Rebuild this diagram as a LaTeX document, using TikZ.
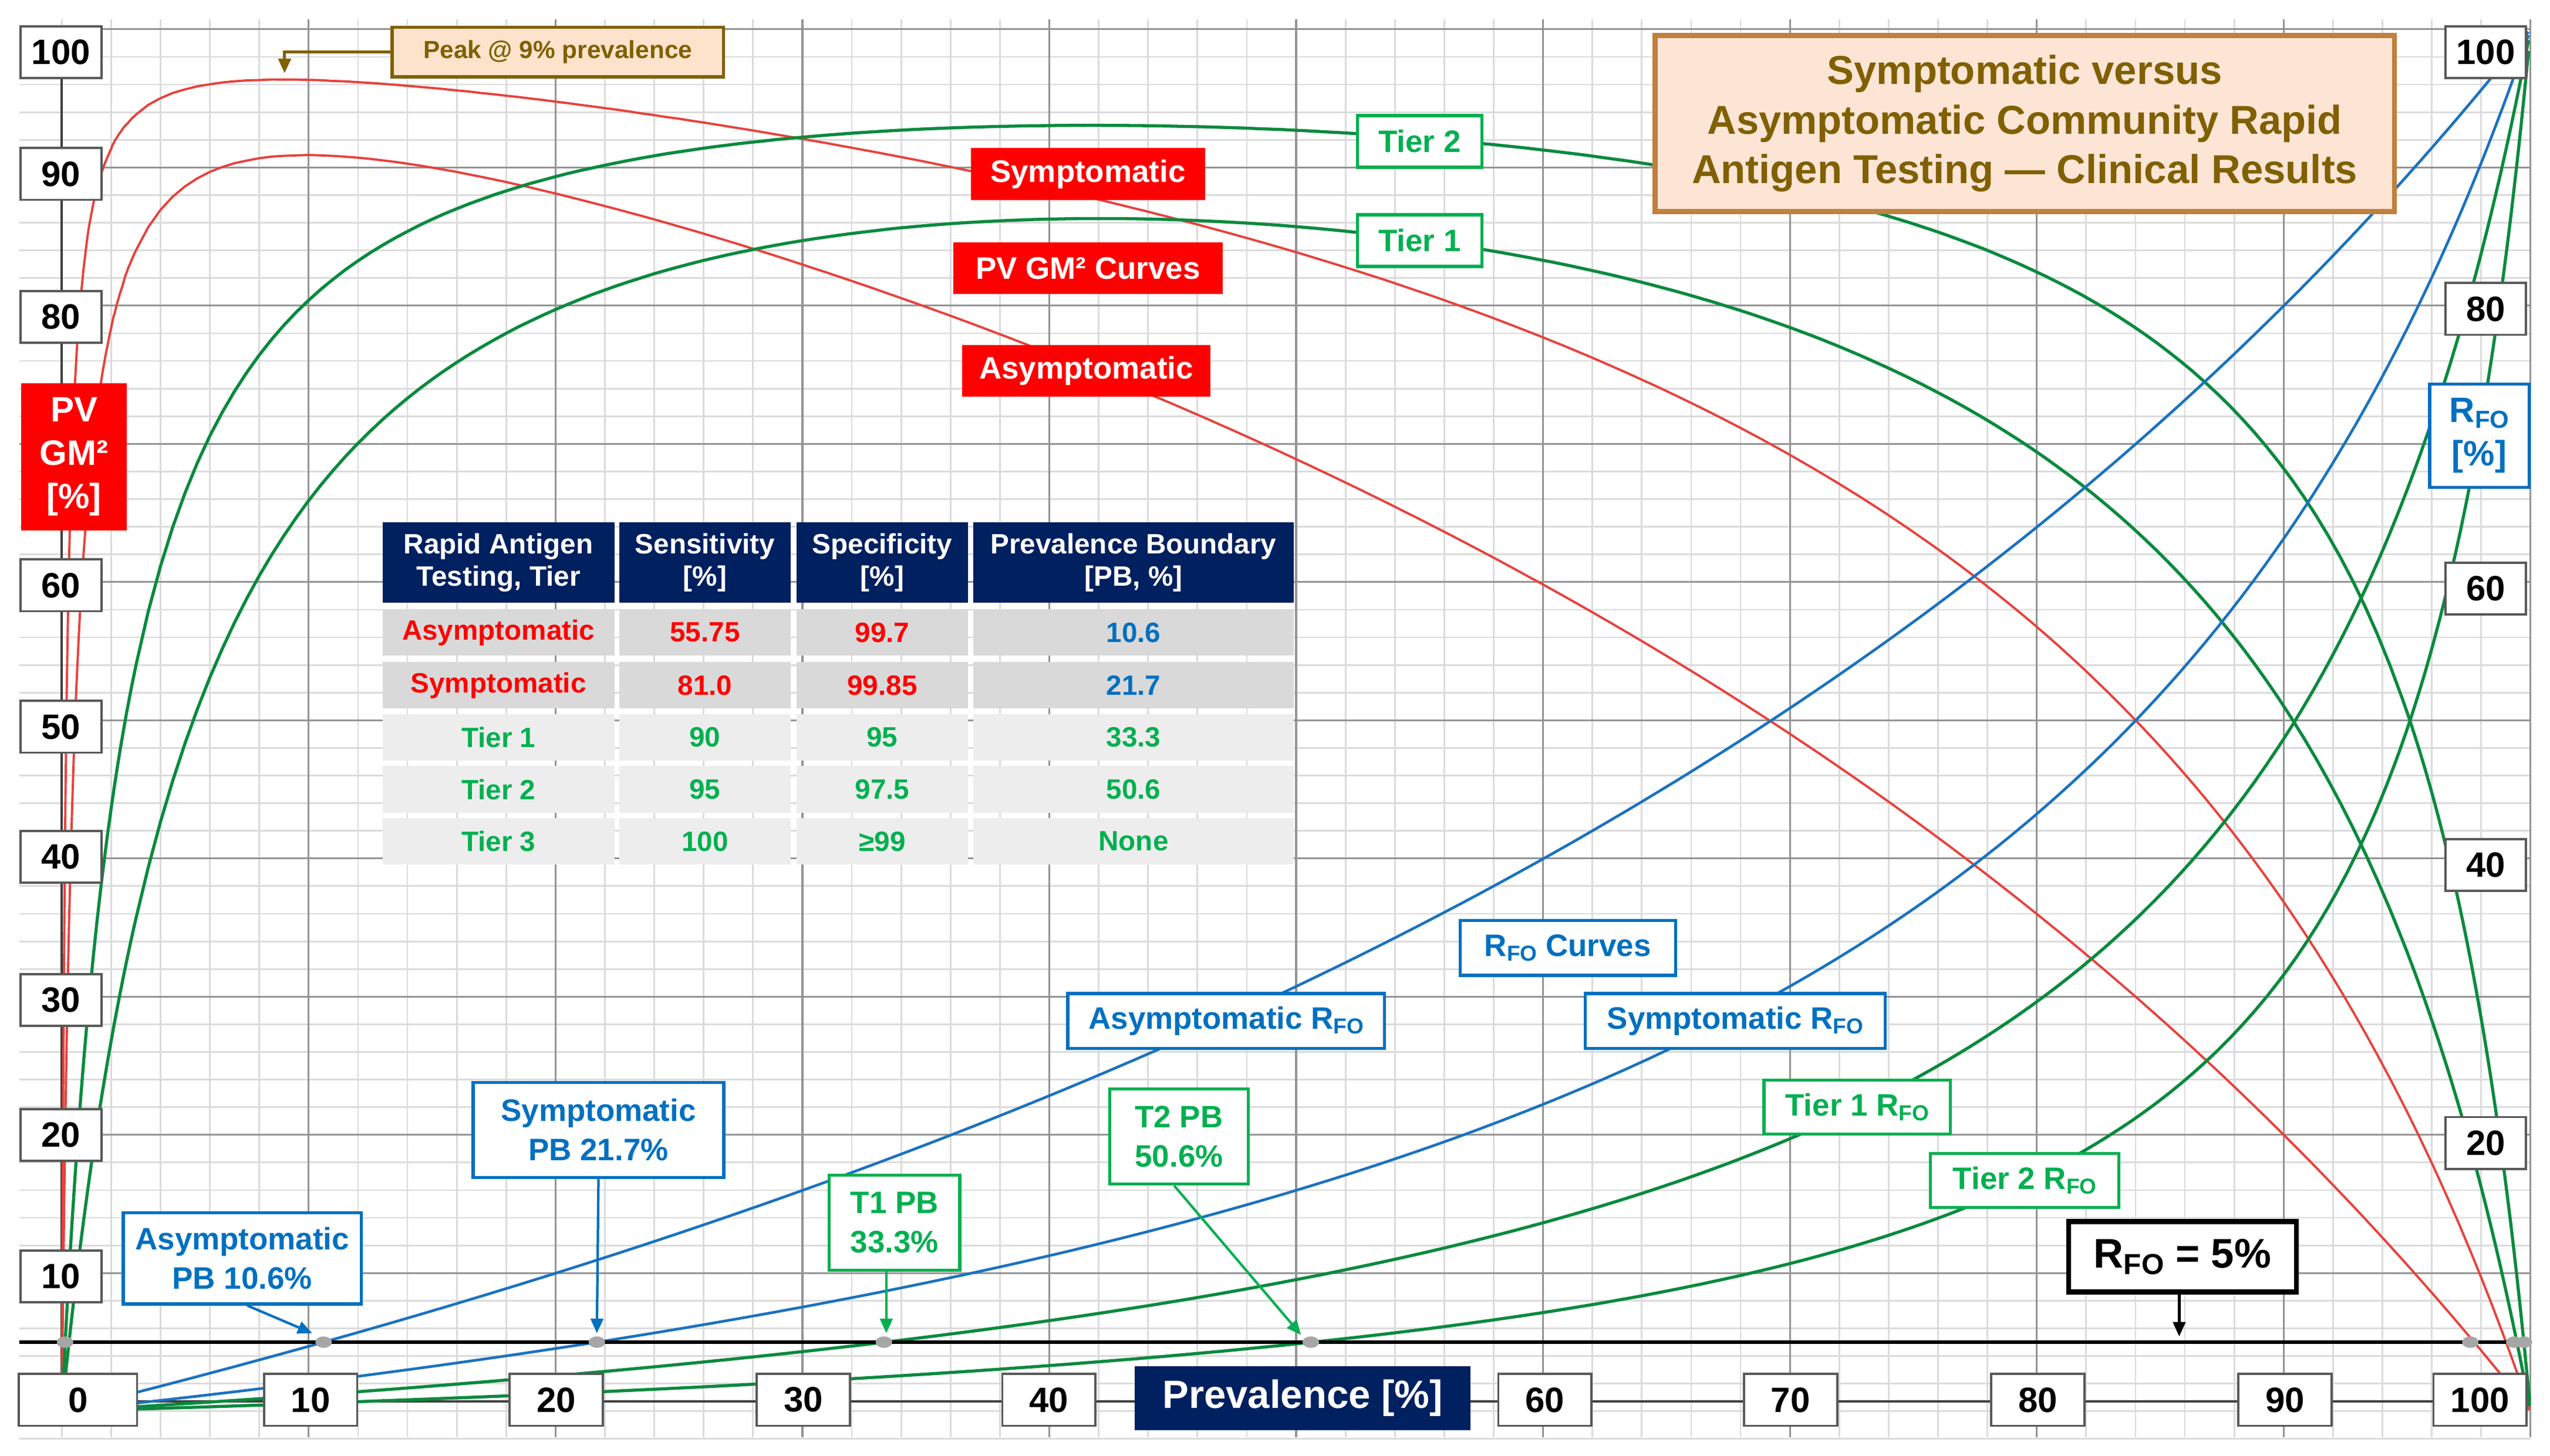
\documentclass[tikz,border=0pt]{standalone}
\usepackage{fontspec}
\setmainfont{Liberation Sans}
\usepackage{graphicx}
\usetikzlibrary{arrows.meta,shapes.geometric}
\definecolor{cred}{HTML}{E8413C}
\definecolor{cgreen}{HTML}{0A8A3E}
\definecolor{cblue}{HTML}{1A72C0}
\definecolor{lred}{HTML}{FF0000}
\definecolor{lgreen}{HTML}{00B050}
\definecolor{lblue}{HTML}{0070C0}
\definecolor{navy}{HTML}{002060}
\definecolor{brownt}{HTML}{806000}
\definecolor{peakfill}{HTML}{FDE3CC}
\definecolor{titlefill}{HTML}{FDE5D6}
\definecolor{titledraw}{HTML}{C0803F}
\definecolor{rowa}{HTML}{D9D9D9}
\definecolor{rowb}{HTML}{EDEDED}
\newcommand\RFO{R\raisebox{-.3ex}{\scalebox{.7}{FO}}}
\newcommand\fs[2]{\fontsize{#1}{#2}\selectfont\bfseries}
\pgfmathdeclarefunction{pvf}{3}{\pgfmathparse{(#2*#1/(#2*#1+(1-#3)*(1-#1)))*(#3*(1-#1)/(#3*(1-#1)+(1-#2)*#1))*100}}
\pgfmathdeclarefunction{rfo}{3}{\pgfmathparse{(1-#2)*#1/((1-#2)*#1+#3*(1-#1))*100}}
\newcommand\pvcurve[3]{\draw[#1] plot[domain=0:0.03,samples=61,variable=\pp] ({38+1518*\pp},{868-8.5*pvf(\pp,#2,#3)}) -- plot[domain=0.03:0.95,samples=185,variable=\pp] ({38+1518*\pp},{868-8.5*pvf(\pp,#2,#3)}) -- plot[domain=0.95:1,samples=51,variable=\pp] ({38+1518*\pp},{868-8.5*pvf(\pp,#2,#3)});}
\newcommand\rfocurve[3]{\draw[#1] plot[domain=0:0.9,samples=181,variable=\pp] ({38+1518*\pp},{868-8.5*rfo(\pp,#2,#3)}) -- plot[domain=0.9:1,samples=101,variable=\pp] ({38+1518*\pp},{868-8.5*rfo(\pp,#2,#3)});}
\begin{document}
\begin{tikzpicture}[x=0.7853pt,y=-0.7853pt,
  minorg/.style={draw=black!14,line width=0.8pt},
  majorg/.style={draw=black!42,line width=0.9pt},
  tickbox/.style={draw=black!65,fill=white,line width=1.1pt,font=\fs{17}{20},minimum height=25pt,minimum width=39pt,inner sep=2pt},
  redlab/.style={fill=lred,text=white,font=\fs{15}{18},minimum height=25pt,inner sep=0pt},
  greenlab/.style={draw=lgreen,fill=white,text=lgreen,line width=1.5pt,font=\fs{15}{18},minimum height=25pt,inner sep=0pt,align=center},
  bluelab/.style={draw=lblue,fill=white,text=lblue,line width=1.5pt,font=\fs{15}{18},minimum height=26.5pt,inner sep=0pt,align=center},
  cell/.style={font=\fs{13.5}{15.5},inner sep=0pt,align=center,minimum height=22.5pt},
  hcell/.style={fill=navy,text=white,font=\fs{13.5}{15.5},inner sep=0pt,align=center,minimum height=39pt},
  pbdot/.style={fill=black!35,ellipse,minimum width=8pt,minimum height=5.5pt,inner sep=0pt},
  bar/.style={-{Triangle[length=7pt,width=6pt]},line width=1.2pt}]
\useasboundingbox (0,0) rectangle (1568,895.2);
\fill[white] (0,0) rectangle (1568,895.2);
% grid
\foreach \i in {-1,...,50} {\pgfmathsetmacro\yy{868-17*\i}\draw[minorg] (12,\yy) -- (1556,\yy);}
\foreach \i in {0,...,50} {\pgfmathsetmacro\xx{38+30.36*\i}\draw[minorg] (\xx,12) -- (\xx,884);}
\foreach \i in {1,...,10} {\pgfmathsetmacro\yy{868-85*\i}\draw[majorg] (12,\yy) -- (1556,\yy);}
\foreach \i in {1,...,10} {\pgfmathsetmacro\xx{38+151.8*\i}\draw[majorg] (\xx,12) -- (\xx,884);}
% axes
\coordinate (ytop) at (38,32);
\coordinate (orig) at (38,862);
\coordinate (xend) at (1556,862);
\draw[black!75,line width=1.2pt] (ytop) -- (orig) -- (xend);
% curves
\pvcurve{cred,line width=1.1pt}{0.81}{0.9985}
\pvcurve{cred,line width=1.1pt}{0.5575}{0.997}
\pvcurve{cgreen,line width=1.5pt}{0.9}{0.95}
\pvcurve{cgreen,line width=1.5pt}{0.95}{0.975}
\rfocurve{cblue,line width=1.3pt}{0.5575}{0.997}
\rfocurve{cblue,line width=1.3pt}{0.81}{0.9985}
\rfocurve{cgreen,line width=1.5pt}{0.9}{0.95}
\rfocurve{cgreen,line width=1.5pt}{0.95}{0.975}
% 5% line
\coordinate (fl) at (12,825.5);
\coordinate (fr) at (1556,825.5);
\draw[black,line width=1.6pt] (fl) -- (fr);
\node[pbdot] (d0) at (40,825.5) {};
\node[pbdot] (d1) at (199,825.5) {};
\node[pbdot] (d2) at (367,825.5) {};
\node[pbdot] (d3) at (543.5,825.5) {};
\node[pbdot] (d4) at (806,825.5) {};
\node[pbdot] (d5) at (1519,825.5) {};
\node[pbdot] (d6) at (1546,825.5) {};
\node[pbdot] (d7) at (1552,825.5) {};
% left ticks
\foreach \v/\yy in {100/32,90/107,80/195,60/360,50/447,40/527,30/615,20/698,10/785}
  {\node[tickbox,anchor=west] (l\v) at (12,\yy) {\v};}
\foreach \v/\yy in {100/32,80/190,60/362,40/532,20/703}
  {\node[tickbox,anchor=east] (r\v) at (1554,\yy) {\v};}
\node[tickbox,minimum width=57pt] (b0) at (48,861) {0};
\foreach \v/\xx in {10/191,20/342,30/494,40/645,60/950,70/1101,80/1253,90/1405}
  {\node[tickbox,minimum width=45pt] (b\v) at (\xx,861) {\v};}
\node[tickbox,minimum width=45pt] (b100) at (1525,861) {100};
\node[fill=navy,text=white,font=\fs{19}{22},minimum width=162pt,minimum height=31pt,inner sep=0pt] (xlab) at (801,860) {Prevalence [\%]};
% axis titles
\node[fill=lred,text=white,font=\fs{17}{21},align=center,minimum width=51pt,minimum height=71pt,inner sep=0pt] (ylab) at (45.5,281) {PV\\GM²\\{}[\%]};
\node[draw=lblue,fill=white,text=lblue,line width=1.5pt,font=\fs{17}{21},align=center,minimum width=48pt,minimum height=50pt,inner sep=0pt] (rlab) at (1524.5,268) {\RFO\\{}[\%]};
% title
\node[draw=titledraw,fill=titlefill,line width=2.5pt,text=brownt,font=\fs{19.5}{24},align=center,minimum width=357pt,minimum height=85pt,inner sep=0pt] (title) at (1245,76) {Symptomatic versus\\Asymptomatic Community Rapid\\Antigen Testing — Clinical Results};
% peak label
\node[draw=brownt,fill=peakfill,text=brownt,line width=1.5pt,font=\fs{12}{14},minimum width=160pt,minimum height=24pt,inner sep=0pt] (peak) at (343,32) {Peak @ 9\% prevalence};
\coordinate (pk) at (175,45);
\draw[brownt,line width=1.4pt,-{Triangle[length=7pt,width=6pt]}] (peak.west) -| (pk);
% PV labels
\node[redlab,minimum width=113pt] (sym) at (669,107) {Symptomatic};
\node[redlab,minimum width=130pt] (pvc) at (669,165) {PV GM² Curves};
\node[redlab,minimum width=120pt] (asym) at (668,228) {Asymptomatic};
\node[greenlab,minimum width=60pt] (t2) at (873,87) {Tier 2};
\node[greenlab,minimum width=60pt] (t1) at (873,148) {Tier 1};
% RFO labels
\node[bluelab,minimum width=104pt] (rc) at (964,583) {\RFO{} Curves};
\node[bluelab,minimum width=153pt] (ar) at (754,628) {Asymptomatic \RFO};
\node[bluelab,minimum width=145pt] (sr) at (1067,628) {Symptomatic \RFO};
\node[greenlab,minimum width=90pt,minimum height=26pt] (t1r) at (1142,681) {Tier 1 \RFO};
\node[greenlab,minimum width=91pt,minimum height=26pt] (t2r) at (1245,726) {Tier 2 \RFO};
% PB labels
\node[bluelab,minimum width=121pt,minimum height=46pt,font=\fs{15}{19}] (spb) at (368,695) {Symptomatic\\PB 21.7\%};
\node[bluelab,minimum width=115pt,minimum height=44pt,font=\fs{15}{19}] (apb) at (149,774) {Asymptomatic\\PB 10.6\%};
\node[greenlab,minimum width=63pt,minimum height=46pt,font=\fs{15}{19}] (t1pb) at (550,752) {T1 PB\\33.3\%};
\node[greenlab,minimum width=67pt,minimum height=46pt,font=\fs{15}{19}] (t2pb) at (725,699) {T2 PB\\50.6\%};
\coordinate (a1) at (192,820);
\coordinate (a2) at (367,820);
\coordinate (a3) at (545,820);
\coordinate (a4) at (800,821);
\draw[bar,lblue] (apb.south) ++(3,0) coordinate (apbs) -- (a1);
\draw[bar,lblue] (spb.south) -- (a2);
\draw[bar,lgreen] (t1pb.south) ++(-5,0) coordinate (t1s) -- (a3);
\draw[bar,lgreen] (t2pb.south) ++(-3,0) coordinate (t2s) -- (a4);
\node[draw=black,fill=white,line width=2.4pt,font=\fs{20}{24},minimum width=110pt,minimum height=34pt,inner sep=0pt] (five) at (1342,773) {\RFO{} = 5\%};
\coordinate (a5) at (1340,822);
\draw[bar,black] (five.south) ++(-2,0) coordinate (fs) -- (a5);
% table
\node[hcell,minimum width=112pt] (h1) at (306.5,346) {Rapid Antigen\\Testing, Tier};
\node[hcell,minimum width=83pt] (h2) at (433.5,346) {Sensitivity\\{}[\%]};
\node[hcell,minimum width=83pt] (h3) at (542.5,346) {Specificity\\{}[\%]};
\node[hcell,minimum width=155pt] (h4) at (697,346) {Prevalence Boundary\\{}[PB, \%]};
\foreach \r/\yy/\fc/\ca/\cb/\a/\b/\c/\d in {
  1/389/rowa/lred/lblue/Asymptomatic/55.75/99.7/10.6,
  2/421.5/rowa/lred/lblue/Symptomatic/81.0/99.85/21.7,
  3/453.5/rowb/lgreen/lgreen/Tier 1/90/95/33.3,
  4/485.5/rowb/lgreen/lgreen/Tier 2/95/97.5/50.6,
  5/517.5/rowb/lgreen/lgreen/Tier 3/100/≥99/None}{
  \node[cell,fill=\fc,text=\ca,minimum width=112pt] (c\r a) at (306.5,\yy) {\a};
  \node[cell,fill=\fc,text=\ca,minimum width=83pt] (c\r b) at (433.5,\yy) {\b};
  \node[cell,fill=\fc,text=\ca,minimum width=83pt] (c\r c) at (542.5,\yy) {\c};
  \node[cell,fill=\fc,text=\cb,minimum width=155pt] (c\r d) at (697,\yy) {\d};
}
\end{tikzpicture}
\end{document}
